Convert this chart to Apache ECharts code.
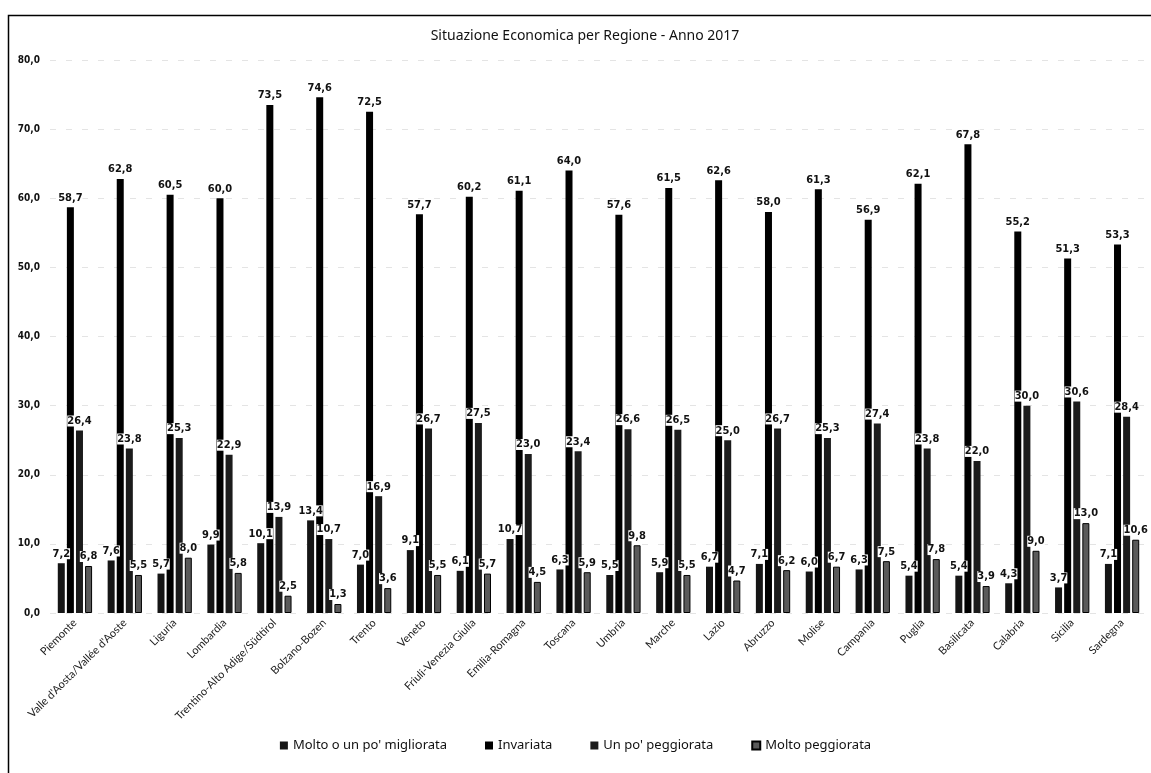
<!DOCTYPE html>
<html>
<head>
<meta charset="utf-8">
<script src="https://cdn.jsdelivr.net/npm/echarts@6/dist/echarts.min.js"></script>
<style>
  html, body { margin: 0; padding: 0; background: #fff; }
  #chart { width: 1151px; height: 773px; }
</style>
</head>
<body>
<div id="chart"></div>
<script>
// Regions (ISTAT, 2017)
const regions = [
  'Piemonte', "Valle d'Aosta/Vallée d'Aoste", 'Liguria', 'Lombardia',
  'Trentino-Alto Adige/Südtirol', 'Bolzano-Bozen', 'Trento', 'Veneto',
  'Friuli-Venezia Giulia', 'Emilia-Romagna', 'Toscana', 'Umbria', 'Marche',
  'Lazio', 'Abruzzo', 'Molise', 'Campania', 'Puglia', 'Basilicata',
  'Calabria', 'Sicilia', 'Sardegna'
];

// Share of families (%) by judgement on their economic situation
const migliorata = [7.2, 7.6, 5.7, 9.9, 10.1, 13.4, 7.0, 9.1, 6.1, 10.7, 6.3,
                    5.5, 5.9, 6.7, 7.1, 6.0, 6.3, 5.4, 5.4, 4.3, 3.7, 7.1];
const invariata = [58.7, 62.8, 60.5, 60.0, 73.5, 74.6, 72.5, 57.7, 60.2, 61.1, 64.0,
                   57.6, 61.5, 62.6, 58.0, 61.3, 56.9, 62.1, 67.8, 55.2, 51.3, 53.3];
const unPoPeggiorata = [26.4, 23.8, 25.3, 22.9, 13.9, 10.7, 16.9, 26.7, 27.5, 23.0, 23.4,
                        26.6, 26.5, 25.0, 26.7, 25.3, 27.4, 23.8, 22.0, 30.0, 30.6, 28.4];
const moltoPeggiorata = [6.8, 5.5, 8.0, 5.8, 2.5, 1.3, 3.6, 5.5, 5.7, 4.5, 5.9,
                         9.8, 5.5, 4.7, 6.2, 6.7, 7.5, 7.8, 3.9, 9.0, 13.0, 10.6];

const seriesNames = ["Molto o un po' migliorata", 'Invariata', "Un po' peggiorata", 'Molto peggiorata'];
const yTicks = { min: 0, max: 80, interval: 10 };

const narrow = "'Liberation Sans Narrow', 'DejaVu Sans Condensed', 'Roboto', sans-serif";
const fmt = v => v.toFixed(1).replace('.', ',');

function barSeries(name, data, style) {
  return {
    name: name,
    type: 'bar',
    data: data,
    barWidth: 7,
    barGap: '30%',
    itemStyle: style,
    label: {
      show: true,
      position: 'top',
      distance: 4,
      formatter: p => fmt(p.value),
      fontFamily: narrow,
      fontWeight: 'bold',
      fontSize: 11,
      color: '#111',
      backgroundColor: '#fff',
      padding: [0, 0]
    }
  };
}

const chart = echarts.init(document.getElementById('chart'), null, { renderer: 'canvas' });

chart.setOption({
  backgroundColor: '#fff',
  animation: false,
  title: {
    text: 'Situazione Economica per Regione - Anno 2017',
    left: 580,
    top: 24,
    textAlign: 'center',
    textStyle: { fontFamily: 'Noto Sans', fontWeight: 'normal', fontSize: 14, color: '#111' }
  },
  grid: { left: 50, right: 4, top: 60, bottom: 160, containLabel: false },
  legend: {
    bottom: 16,
    left: 'center',
    itemWidth: 8,
    itemHeight: 8,
    itemGap: 38,
    icon: 'rect',
    textStyle: { fontFamily: 'Noto Sans', fontSize: 13, color: '#111' },
    data: seriesNames
  },
  xAxis: {
    type: 'category',
    data: regions,
    axisLine: { show: false },
    axisTick: { show: false },
    axisLabel: {
      interval: 0,
      rotate: 45,
      margin: 8,
      fontFamily: 'Lato',
      fontSize: 11,
      color: '#222'
    }
  },
  yAxis: {
    type: 'value',
    min: yTicks.min,
    max: yTicks.max,
    interval: yTicks.interval,
    axisLine: { show: false },
    axisTick: { show: false },
    axisLabel: {
      margin: 10,
      formatter: v => fmt(v),
      fontFamily: narrow,
      fontWeight: 'bold',
      fontSize: 10,
      color: '#111'
    },
    splitLine: { show: true, lineStyle: { color: '#e4e4e4', type: [6, 10] } }
  },
  series: [
    barSeries(seriesNames[0], migliorata, { color: '#151515' }),
    barSeries(seriesNames[1], invariata, { color: '#000' }),
    barSeries(seriesNames[2], unPoPeggiorata, { color: '#1c1c1c' }),
    barSeries(seriesNames[3], moltoPeggiorata, { color: '#5a5a5a', borderColor: '#000', borderWidth: 1 })
  ],
  graphic: [
    {
      type: 'rect',
      silent: true,
      shape: { x: 8.5, y: 15.5, width: 1160, height: 780 },
      style: { fill: null, stroke: '#000', lineWidth: 1.5 }
    }
  ]
});
</script>
</body>
</html>
